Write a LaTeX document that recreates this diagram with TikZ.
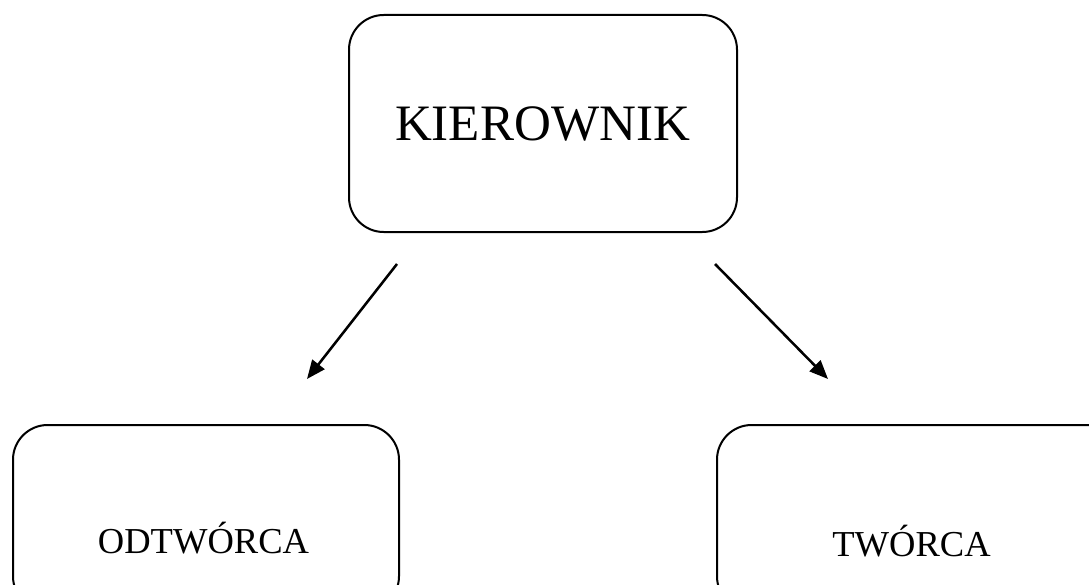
\documentclass[tikz,border=0pt]{standalone}
\usepackage{fontspec}
\setmainfont{Liberation Serif}
\usetikzlibrary{arrows.meta}
\begin{document}
\begin{tikzpicture}[x=0.75pt,y=-0.75pt,
  roundbox/.style={draw=black, line width=1.5pt, rounded corners=26pt,
    rectangle, inner sep=0pt, anchor=north west},
  link/.style={line width=1.9pt, -{Triangle[length=14pt,width=11.5pt]}},
  bigtext/.style={font=\fontsize{38.3}{38.3}\selectfont, anchor=base, inner sep=0pt},
  smalltext/.style={font=\fontsize{27.4}{27.4}\selectfont, anchor=base, inner sep=0pt}]
  \useasboundingbox (0,0) rectangle (1089,585);
  % boxes
  \node[roundbox, minimum width=291pt, minimum height=162.75pt] (boss) at (348,14) {};
  \node[roundbox, minimum width=289.5pt, minimum height=139.5pt] (left) at (12,424) {};
  \node[roundbox, minimum width=304.5pt, minimum height=139.5pt] (right) at (716,424) {};
  % labels
  \node[bigtext] (bosslabel) at (542.5,141) {KIEROWNIK};
  \node[smalltext] (leftlabel) at (203.5,553) {ODTWÓRCA};
  \node[smalltext] (rightlabel) at (911.5,556) {TWÓRCA};
  % arrow ends
  \coordinate (ls) at (397,264);
  \coordinate (le) at (307,379);
  \coordinate (rs) at (715,264);
  \coordinate (re) at (828,379);
  \draw[link] (ls) -- (le);
  \draw[link] (rs) -- (re);
\end{tikzpicture}
\end{document}
